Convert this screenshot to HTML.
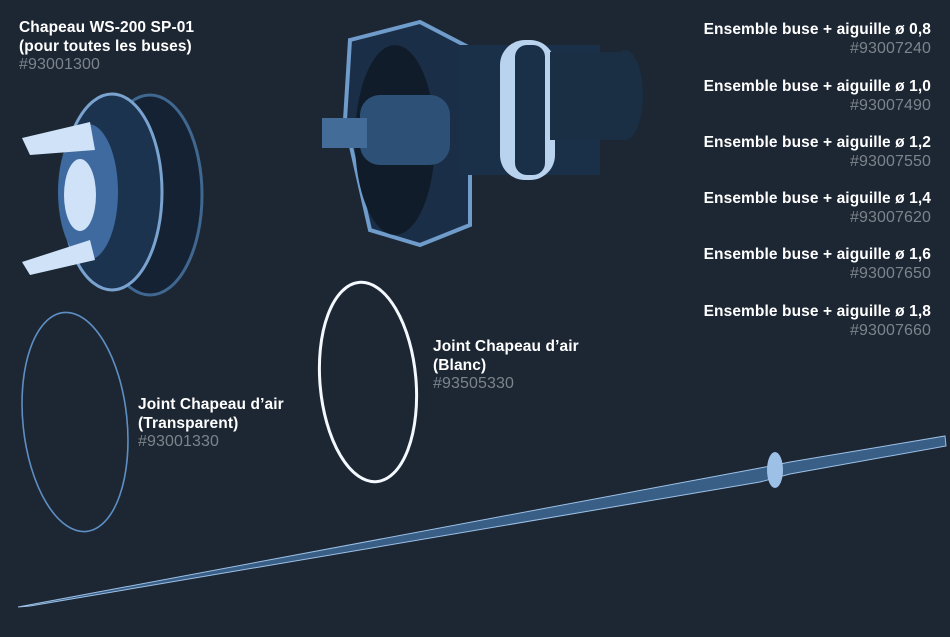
<!DOCTYPE html>
<html><head><meta charset="utf-8"><style>
body{margin:0;width:950px;height:637px;background:#1d2733;overflow:hidden;position:relative;font-family:"Liberation Sans",sans-serif}
.t{position:absolute;color:#fff;font-weight:bold;font-size:15.5px;line-height:18.5px;letter-spacing:0.1px}
.t span{color:#7c838b;font-weight:normal;font-size:16px}
.r{right:19px;text-align:right}
svg{position:absolute;left:0;top:0}
</style></head><body>
<svg width="950" height="637" viewBox="0 0 950 637">
<g>
<ellipse cx="150" cy="195" rx="52" ry="100" fill="#152233" stroke="#3f678f" stroke-width="3"/>
<ellipse cx="112" cy="192" rx="50" ry="98" fill="#1c3350" stroke="#7aa3cf" stroke-width="3"/>
<ellipse cx="88" cy="192" rx="30" ry="68" fill="#3f6a9f"/>
<ellipse cx="80" cy="195" rx="16" ry="36" fill="#cfe2f8"/>
<polygon points="22,138 90,122 95,150 30,155" fill="#cfe2f8"/>
<polygon points="22,262 90,240 95,260 30,275" fill="#cfe2f8"/>
</g>
<g>
<polygon points="350,40 420,22 470,48 470,225 420,245 370,230 345,120" fill="#1a2f47" stroke="#6f9ccb" stroke-width="4"/>
<ellipse cx="395" cy="140" rx="40" ry="95" fill="#101c2a"/>
<rect x="460" y="45" width="140" height="130" fill="#1a3049"/>
<rect x="500" y="40" width="55" height="140" rx="25" fill="#b9d2ee"/>
<rect x="515" y="45" width="30" height="130" rx="12" fill="#1a3049"/>
<ellipse cx="625" cy="95" rx="18" ry="45" fill="#1a2e44"/>
<rect x="550" y="52" width="75" height="88" fill="#1a2e44"/>
<rect x="360" y="95" width="90" height="70" rx="20" fill="#2d5176"/>
<rect x="322" y="118" width="45" height="30" fill="#436c98"/>
</g>
<ellipse cx="75" cy="422" rx="52" ry="110" transform="rotate(-6 75 422)" fill="none" stroke="#5e8fc4" stroke-width="1.6"/>
<ellipse cx="368" cy="382" rx="48" ry="100" transform="rotate(-5 368 382)" fill="none" stroke="#f4f8ff" stroke-width="3"/>
<polygon points="18,607 760,468 790,462 945,436 946,446 790,474 760,482 30,606" fill="#3a5f86" stroke="#9cc0e6" stroke-width="1"/>
<ellipse cx="775" cy="470" rx="8" ry="18" fill="#9cc0e6"/>
</svg>
<div class="t" style="left:19px;top:19px">Chapeau WS-200 SP-01<br>(pour toutes les buses)<br><span>#93001300</span></div>
<div class="t" style="left:138px;top:396px">Joint Chapeau d’air<br>(Transparent)<br><span>#93001330</span></div>
<div class="t" style="left:433px;top:338px">Joint Chapeau d’air<br>(Blanc)<br><span>#93505330</span></div>
<div class="t r" style="top:21px">Ensemble buse + aiguille ø 0,8<br><span>#93007240</span></div>
<div class="t r" style="top:78px">Ensemble buse + aiguille ø 1,0<br><span>#93007490</span></div>
<div class="t r" style="top:134px">Ensemble buse + aiguille ø 1,2<br><span>#93007550</span></div>
<div class="t r" style="top:190px">Ensemble buse + aiguille ø 1,4<br><span>#93007620</span></div>
<div class="t r" style="top:246px">Ensemble buse + aiguille ø 1,6<br><span>#93007650</span></div>
<div class="t r" style="top:303px">Ensemble buse + aiguille ø 1,8<br><span>#93007660</span></div>
</body></html>
